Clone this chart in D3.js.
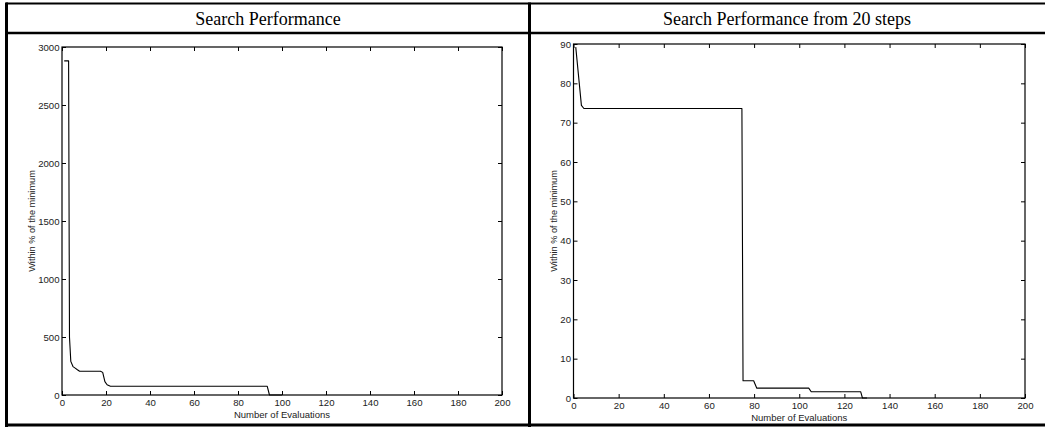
<!DOCTYPE html>
<html>
<head>
<meta charset="utf-8">
<script src="https://cdn.jsdelivr.net/npm/d3@7"></script>
<style>
  html, body { margin: 0; padding: 0; background: #fff; }
  svg { display: block; }
</style>
</head>
<body>
<svg id="fig" width="1045" height="427"></svg>
<script>
// Panel titles
const panelTitles = ["Search Performance", "Search Performance from 20 steps"];
const xLabel = "Number of Evaluations";
const yLabel = "Within % of the minimum";

// Full search: evaluations vs. % above minimum
const fullEvals = [1, 3, 3.4, 4, 5, 6, 7, 8, 17.5, 18.5, 19.5, 20.5, 22, 93.3, 94.3, 100];
const fullValues = [2880, 2880, 500, 290, 245, 232, 218, 205, 205, 195, 115, 88, 75, 75, 0, 0];

// Search restarted from 20 steps
const restartEvals = [1, 3.5, 4.6, 74.6, 75.1, 79.8, 81.2, 104.2, 105.3, 127.2, 128, 130];
const restartValues = [89.2, 74.4, 73.6, 73.6, 4.4, 4.4, 2.5, 2.5, 1.6, 1.6, 0, 0];

// Axis ticks
const xTicks = [0, 20, 40, 60, 80, 100, 120, 140, 160, 180, 200];
const fullYTicks = [0, 500, 1000, 1500, 2000, 2500, 3000];
const restartYTicks = [0, 10, 20, 30, 40, 50, 60, 70, 80, 90];

const svg = d3.select("#fig");

// Table frame around the two panels
const frame = svg.append("g").attr("stroke", "#000").attr("fill", "none");
frame.append("line").attr("x1", 6).attr("x2", 1045).attr("y1", 3.5).attr("y2", 3.5).attr("stroke-width", 2);
frame.append("line").attr("x1", 6).attr("x2", 1045).attr("y1", 33).attr("y2", 33).attr("stroke-width", 2.5);
frame.append("line").attr("x1", 6.5).attr("x2", 6.5).attr("y1", 2.5).attr("y2", 427).attr("stroke-width", 3);
frame.append("line").attr("x1", 529.5).attr("x2", 529.5).attr("y1", 2.5).attr("y2", 427).attr("stroke-width", 3);
frame.append("line").attr("x1", 5).attr("x2", 1045).attr("y1", 425).attr("y2", 425).attr("stroke-width", 3);

// Header titles
const headerCenters = [268, 787];
panelTitles.forEach((t, i) => {
  svg.append("text")
    .attr("x", headerCenters[i]).attr("y", 24.5)
    .attr("text-anchor", "middle")
    .attr("font-family", "Liberation Serif, Times New Roman, serif")
    .attr("font-size", 18)
    .attr("fill", "#000")
    .text(t);
});

function drawPanel(opts) {
  const { left, right, top, bottom, yMax, yTicks, xs, ys, yLabelX } = opts;
  const x = d3.scaleLinear().domain([0, 200]).range([left, right]);
  const y = d3.scaleLinear().domain([0, yMax]).range([bottom, top]);
  const g = svg.append("g");
  const font = "Liberation Sans, Arial, Helvetica, sans-serif";
  const tickLen = 4;
  const fmt = d3.format("d");

  // Bottom axis with inward ticks
  const ax = g.append("g").attr("transform", `translate(0,${bottom})`)
    .call(d3.axisBottom(x).tickValues(xTicks).tickSize(-tickLen).tickPadding(4).tickFormat(fmt));
  // Left axis with inward ticks
  const ay = g.append("g").attr("transform", `translate(${left},0)`)
    .call(d3.axisLeft(y).tickValues(yTicks).tickSize(-tickLen).tickPadding(2.5).tickFormat(fmt));
  // Top and right mirrored ticks
  const at = g.append("g").attr("transform", `translate(0,${top})`)
    .call(d3.axisTop(x).tickValues(xTicks).tickSize(-tickLen).tickFormat(""));
  const ar = g.append("g").attr("transform", `translate(${right},0)`)
    .call(d3.axisRight(y).tickValues(yTicks).tickSize(-tickLen).tickFormat(""));

  [ax, ay, at, ar].forEach(a => {
    a.select(".domain").remove();
    a.selectAll(".tick line").attr("stroke", "#000").attr("stroke-width", 1);
    a.selectAll(".tick text").attr("font-family", font).attr("font-size", 9.6).attr("fill", "#222");
  });
  ax.selectAll(".tick text").attr("dy", "0.75em");

  // Box
  g.append("rect")
    .attr("x", left).attr("y", top)
    .attr("width", right - left).attr("height", bottom - top)
    .attr("fill", "none").attr("stroke", "#000").attr("stroke-width", 1.2);

  // Series line
  const pts = xs.map((v, i) => [v, ys[i]]);
  g.append("path")
    .datum(pts)
    .attr("fill", "none")
    .attr("stroke", "#000")
    .attr("stroke-width", 1.1)
    .attr("stroke-linejoin", "round")
    .attr("d", d3.line().x(d => x(d[0])).y(d => y(d[1])));

  // Axis labels
  g.append("text")
    .attr("x", (left + right) / 2).attr("y", bottom + 23)
    .attr("text-anchor", "middle")
    .attr("font-family", font).attr("font-size", 9.5).attr("fill", "#222")
    .text(xLabel);
  g.append("text")
    .attr("transform", `translate(${yLabelX},${(top + bottom) / 2}) rotate(-90)`)
    .attr("text-anchor", "middle")
    .attr("font-family", font).attr("font-size", 9.2).attr("fill", "#222")
    .text(yLabel);
}

drawPanel({
  left: 62, right: 502, top: 47, bottom: 395,
  yMax: 3000, yTicks: fullYTicks,
  xs: fullEvals, ys: fullValues, yLabelX: 35
});

drawPanel({
  left: 573.5, right: 1025, top: 44, bottom: 398,
  yMax: 90, yTicks: restartYTicks,
  xs: restartEvals, ys: restartValues, yLabelX: 557
});
</script>
</body>
</html>
